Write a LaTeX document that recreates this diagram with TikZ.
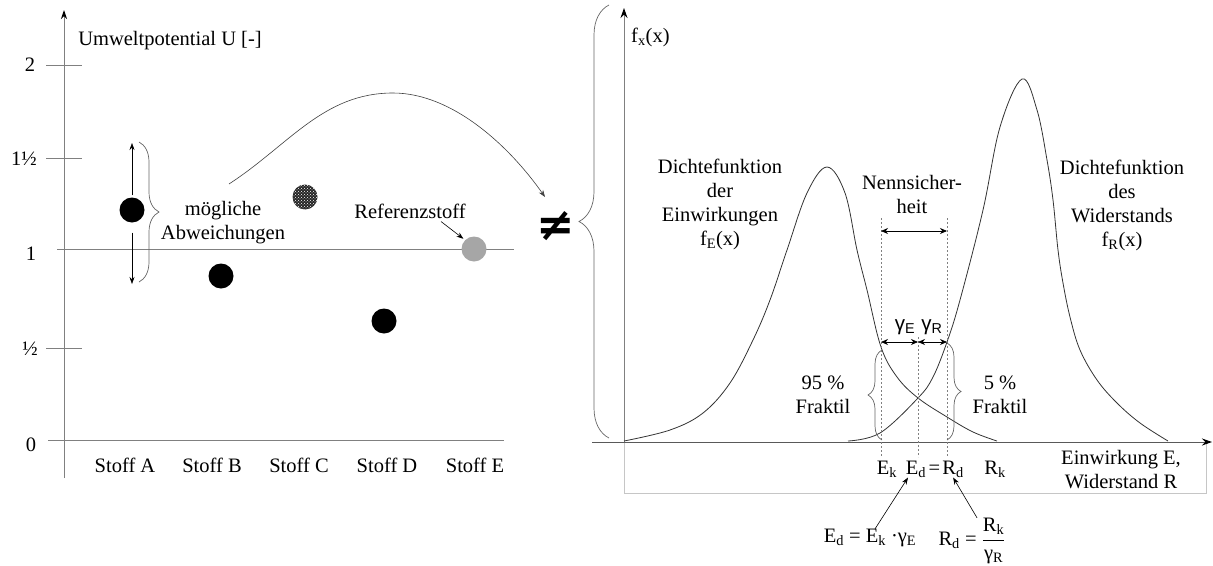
\documentclass[tikz,border=0pt]{standalone}
\usepackage{fontspec}
\setmainfont{Liberation Serif}
\newfontfamily\sansgamma{Liberation Sans}
\newfontfamily\neqfont{DejaVu Sans}
\usetikzlibrary{arrows.meta,positioning,decorations.pathreplacing,patterns}
\newcommand{\txtsize}{\fontsize{20.5}{24}\selectfont}

\begin{document}
\begin{tikzpicture}[
    x=1pt, y=-1pt,
    every node/.style={font=\txtsize, inner sep=0pt, align=center},
    axis/.style={draw=gray, line width=1pt},
    arrow/.style={-{Stealth[length=7pt, width=5pt]}, line width=0.6pt},
    dblarrow/.style={{Stealth[length=7pt, width=6pt]}-{Stealth[length=7pt, width=6pt]}, line width=0.8pt},
    stoffdot/.style={circle, fill=black, minimum size=25pt},
    curve/.style={draw=black!80, line width=0.8pt},
    guide/.style={draw=gray, dashed, dash pattern=on 2pt off 2pt, line width=0.7pt},
    bracket/.style={decorate, decoration={brace, amplitude=#1}, draw=black!60, line width=0.7pt}
]
\useasboundingbox (0,0) rectangle (1213,565);

% left: Umweltpotential der Stoffe
\draw[axis, -{Stealth[length=9pt, width=6pt, color=black]}] (64,478) -- (64,10);
\foreach \y in {65,158,348}
    \draw[axis] (46,\y) -- (82,\y);
\draw[axis] (57,249) -- (514,249);
\draw[axis] (48,440) -- (504,440);
\node (ylabel) at (170,41) {Umweltpotential U [-]};
\node (u2) at (30,65) {2};
\node (u15) at (24,159) {1½};
\node (u1) at (31,254) {1};
\node (u05) at (30,349) {½};
\node (u0) at (31,445) {0};
\foreach \x/\s in {125/A,212/B,299/C,387/D,475/E}
    \node (stoff\s) at (\x,465) {Stoff \s};

\node (dotA) [stoffdot] at (132,210) {};
\node (dotB) [stoffdot] at (221,276) {};
\node (dotC) [stoffdot, fill=black!85, postaction={pattern=crosshatch dots, pattern color=white}] at (305,197) {};
\node (dotD) [stoffdot] at (384,321) {};
\node (dotE) [stoffdot, fill=black!35] at (474,249) {};

\coordinate (aup) at (132,143);
\coordinate (adown) at (132,284);
\draw[arrow] ([yshift=2pt]dotA.north) -- (aup);
\draw[arrow] ([yshift=-10pt]dotA.south) -- (adown);
\draw[bracket=20pt] (139,142) -- (139,282);
\node (abw) at (223,223) {mögliche\\Abweichungen};

\node (ref) at (410,211) {Referenzstoff};
\draw[arrow, shorten >=2pt] ([xshift=31pt, yshift=-3pt]ref.south) -- (dotE.north west);

% Vergleich
\node (neq) at (556,226) {\neqfont\bfseries\fontsize{46}{46}\selectfont ≠};
\coordinate (arcstart) at (229,184);
\coordinate (arcend) at (545,197);
\draw[arrow, draw=black!75] (arcstart) .. controls (289,145) and (323,93) .. (393,93)
    .. controls (453,93) and (510,147) .. (arcend);
\draw[bracket=30pt] (609,438) -- (609,5);

% right: Dichtefunktionen
\draw[draw=gray!45, line width=0.8pt] (624,442) rectangle (1206,493);
\draw[axis, -{Stealth[length=10pt, width=7pt, color=black]}] (624,442) -- (624,8);
\draw[draw=black!65, line width=1pt, -{Stealth[length=10pt, width=7pt, color=black]}] (592,442) -- (1212,442);
\node (fx) [anchor=west] at (631,37) {f\textsubscript{x}(x)};

\draw[curve] plot[smooth, tension=0.6] coordinates {(624,441) (670,430) (703,413) (730,383)
    (753,340) (770,300) (787,250) (807,193) (827,167) (845,193) (857,250) (867,290)
    (881,347) (897,377) (918,398) (947,417) (973,432) (997,441)};
\draw[curve] plot[smooth, tension=0.6] coordinates {(848,441) (880,433) (918,398) (933,377)
    (947,342) (960,300) (983,210) (1000,127) (1022,79) (1037,110) (1047,160) (1053,200)
    (1058,250) (1063,283) (1070,317) (1080,350) (1097,380) (1117,403) (1140,423) (1168,441)};

\draw[guide] (881,218) -- (881,457);
\draw[guide] (918,337) -- (918,457);
\draw[guide] (947,218) -- (947,457);

\node (nenn) at (912,194) {Nennsicher-\\heit};
\draw[dblarrow] (881,231) -- (947,231);
\node (gE) at (905,327) {\sansgamma γ\textsubscript{E}};
\node (gR) at (932,327) {\sansgamma γ\textsubscript{R}};
\draw[dblarrow] (881,342) -- (918,342);
\draw[dblarrow] (918,342) -- (947,342);

\draw[bracket=14pt] (882,440) -- (882,350);
\draw[bracket=14pt] (947,343) -- (947,440);
\node (frak95) at (823,395) {95 \%\\Fraktil};
\node (frak5) at (1000,395) {5 \%\\Fraktil};

\node (dichteE) at (720,204) {Dichtefunktion\\der\\Einwirkungen\\f\textsubscript{E}(x)};
\node (dichteR) at (1122,205) {Dichtefunktion\\des\\Widerstands\\f\textsubscript{R}(x)};

\node (Ek) at (887,469) {E\textsubscript{k}};
\node (Ed) at (916,469) {E\textsubscript{d}};
\node (eqsign) [base right=2pt of Ed] {=};
\node (Rd) [base right=2pt of eqsign] {R\textsubscript{d}};
\node (Rk) at (995,469) {R\textsubscript{k}};
\node (einw) at (1121,470) {Einwirkung E,\\Widerstand R};

\node (edform) at (870,538) {E\textsubscript{d} = E\textsubscript{k} ·γ\textsubscript{E}};
\node (rdform) at (972,541) {R\textsubscript{d} = $\displaystyle\frac{\mbox{R\textsubscript{k}}}{\mbox{γ\textsubscript{R}}}$};
\draw[arrow] ([xshift=5pt]edform.north) -- ([xshift=-8pt]Ed.south);
\draw[arrow] ([xshift=5pt]rdform.north) -- (Rd.south);
\end{tikzpicture}
\end{document}
